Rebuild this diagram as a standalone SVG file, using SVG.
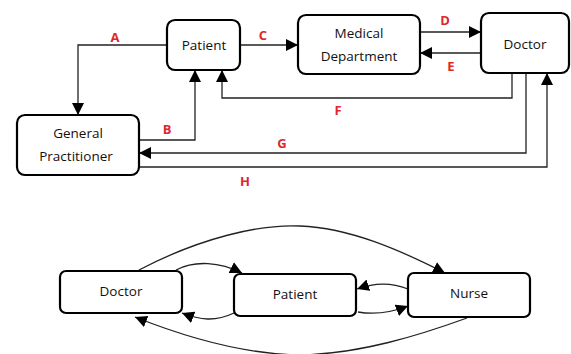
<svg xmlns="http://www.w3.org/2000/svg" width="571" height="354" viewBox="0 0 571 354">
<style>
.box{fill:#fff;stroke:#000;stroke-width:2.2}
.t{font-family:"Open Sans","DejaVu Sans",sans-serif;font-size:13.5px;fill:#111;text-anchor:middle}
.lb{font-family:"Open Sans","DejaVu Sans",sans-serif;font-size:13px;font-weight:bold;fill:#e0262b;text-anchor:middle}
.c{fill:none;stroke:#222;stroke-width:1.3}
</style>
<defs>
<marker id="ah" markerUnits="userSpaceOnUse" markerWidth="13" markerHeight="13" refX="12" refY="6.5" orient="auto">
<path d="M0,0.5 L12,6.5 L0,12.5 z" fill="#000"/>
</marker>
</defs>
<g id="connectors">
<path class="c" d="M167,45 H78 V115" marker-end="url(#ah)"/>
<path class="c" d="M240,45 H298" marker-end="url(#ah)"/>
<path class="c" d="M420,32 H481" marker-end="url(#ah)"/>
<path class="c" d="M481,53 H420" marker-end="url(#ah)"/>
<path class="c" d="M512,73 V98 H222 V70" marker-end="url(#ah)"/>
<path class="c" d="M139,140 H195 V70" marker-end="url(#ah)"/>
<path class="c" d="M526,73 V153 H139" marker-end="url(#ah)"/>
<path class="c" d="M139,167 H547 V73" marker-end="url(#ah)"/>
<path class="c" d="M139,270 C200,238 260,224 300,226 C350,228 400,250 445,273" marker-end="url(#ah)"/>
<path class="c" d="M176,270 C195,260 220,262 242,273" marker-end="url(#ah)"/>
<path class="c" d="M234,313 C215,322 200,320 182,313" marker-end="url(#ah)"/>
<path class="c" d="M467,318 C420,335 360,354 300,355 C240,354 180,335 135,317" marker-end="url(#ah)"/>
<path class="c" d="M408,289 C390,282 375,283 357,289" marker-end="url(#ah)"/>
<path class="c" d="M358,312 C375,315 390,313 408,306" marker-end="url(#ah)"/>
</g>
<g id="labels">
<text class="lb" x="115" y="42">A</text>
<text class="lb" x="167" y="134">B</text>
<text class="lb" x="263" y="40">C</text>
<text class="lb" x="445" y="25">D</text>
<text class="lb" x="451" y="71">E</text>
<text class="lb" x="338" y="115">F</text>
<text class="lb" x="282" y="148">G</text>
<text class="lb" x="245" y="186">H</text>
</g>
<g id="patient">
<rect class="box" x="167" y="20" width="73" height="50" rx="8"/>
<text class="t" x="204" y="50">Patient</text>
</g>
<g id="medical">
<rect class="box" x="298" y="15" width="122" height="59" rx="8"/>
<text class="t" x="359" y="38">Medical</text>
<text class="t" x="359" y="61">Department</text>
</g>
<g id="doctor">
<rect class="box" x="481" y="13" width="88" height="60" rx="8"/>
<text class="t" x="525" y="49">Doctor</text>
</g>
<g id="gp">
<rect class="box" x="17" y="115" width="122" height="60" rx="8"/>
<text class="t" x="78" y="138">General</text>
<text class="t" x="76" y="161">Practitioner</text>
</g>
<g id="doctor2">
<rect class="box" x="60" y="271" width="122" height="42" rx="6"/>
<text class="t" x="121" y="296">Doctor</text>
</g>
<g id="patient2">
<rect class="box" x="234" y="274" width="122" height="42" rx="6"/>
<text class="t" x="295" y="299">Patient</text>
</g>
<g id="nurse">
<rect class="box" x="408" y="273" width="122" height="44" rx="6"/>
<text class="t" x="469" y="298">Nurse</text>
</g>
</svg>
